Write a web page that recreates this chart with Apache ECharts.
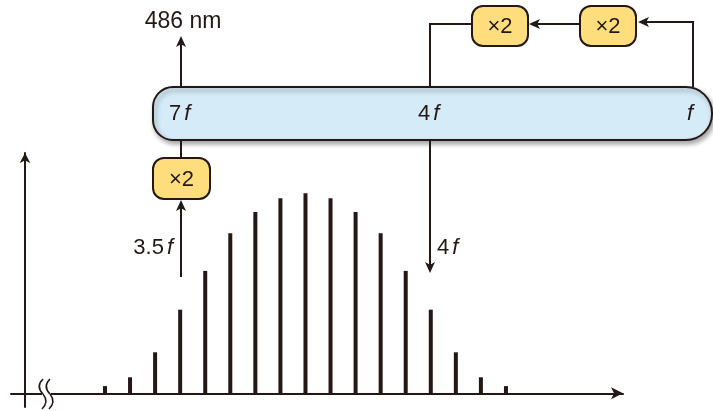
<!DOCTYPE html>
<html><head><meta charset="utf-8">
<script src="https://cdn.jsdelivr.net/npm/echarts@6/dist/echarts.min.js"></script>
<style>html,body{margin:0;padding:0;background:#fff}#c{width:713px;height:411px}</style>
</head><body><div id="c"></div>
<script>
// Comb-mode index (17 teeth) and relative amplitude of each tooth
const modes = [1,2,3,4,5,6,7,8,9,10,11,12,13,14,15,16,17];
const amplitudes = [3.6, 8, 20.5, 41.8, 61.2, 80, 90.7, 97.5, 100, 97.5, 90.7, 80, 61.2, 41.8, 20.5, 8, 3.6];
// Diagram labels
const outLabel = '486 nm';
const pillLabels = [['7', 'f'], ['4', 'f'], ['', 'f']];
const doubler = '×2';
const inLabel = ['3.5', 'f'];
const downLabel = ['4', 'f'];

const INK = '#231815';
const FONT = '"Liberation Sans", Arial, sans-serif';
const chart = echarts.init(document.getElementById('c'), null, {renderer: 'canvas'});

function arrowHead(x, y, dir, len, w) {
  let pts;
  const n = len * 0.25;
  if (dir === 'up') pts = [[x, y], [x + w/2, y + len], [x, y + len - n], [x - w/2, y + len]];
  if (dir === 'down') pts = [[x, y], [x + w/2, y - len], [x, y - len + n], [x - w/2, y - len]];
  if (dir === 'left') pts = [[x, y], [x + len, y - w/2], [x + len - n, y], [x + len, y + w/2]];
  if (dir === 'right') pts = [[x, y], [x - len, y - w/2], [x - len + n, y], [x - len, y + w/2]];
  return {type: 'polygon', shape: {points: pts}, style: {fill: INK}, z: 20};
}
function line(pts) {
  return {type: 'polyline', shape: {points: pts}, style: {stroke: INK, lineWidth: 2, fill: null}, z: 15};
}
function box(x, y, w, h) {
  return [{type: 'rect', shape: {x: x, y: y, width: w, height: h, r: 11},
           style: {fill: '#fedd7c', stroke: INK, lineWidth: 2}, z: 18},
          {type: 'text', x: x + w/2, y: y + h/2 + 1, style: {text: doubler, font: '22px ' + FONT, fill: INK,
           textAlign: 'center', textVerticalAlign: 'middle'}, z: 19}];
}
function fLabel(parts, x, y, align) {
  return {type: 'text', x: x, y: y, z: 21, style: {
    text: (parts[0] ? '{n|' + parts[0] + '}' : '') + '{i|' + parts[1] + '}',
    textAlign: align || 'left', textVerticalAlign: 'middle',
    rich: {
      n: {fontSize: 22, fontFamily: FONT, fill: INK, color: INK},
      i: {fontSize: 22, fontFamily: FONT, fontStyle: 'italic', fill: INK, color: INK, padding: [0, 0, 0, 3]}
    }}};
}
function wiggle(dx) {
  const s = {stroke: INK, lineWidth: 1.5, fill: null};
  return [
    {type: 'bezierCurve', shape: {x1: 43 + dx, y1: 379, cpx1: 37 + dx, cpy1: 385, cpx2: 39 + dx, cpy2: 390, x2: 43 + dx, y2: 394}, style: s, z: 31},
    {type: 'bezierCurve', shape: {x1: 43 + dx, y1: 394, cpx1: 47 + dx, cpy1: 399, cpx2: 47 + dx, cpy2: 404, x2: 42 + dx, y2: 409}, style: s, z: 31}
  ];
}

const graphics = [];
graphics.push({type: 'rect', shape: {x: 153, y: 87, width: 559, height: 53, r: [20, 26, 26, 20]},
  style: {fill: '#d5ebf8', stroke: INK, lineWidth: 2, shadowBlur: 5, shadowOffsetX: 2, shadowOffsetY: 3,
  shadowColor: 'rgba(0,0,0,0.35)'}, z: 10});
graphics.push(fLabel(pillLabels[0], 169, 114));
graphics.push(fLabel(pillLabels[1], 418, 114));
graphics.push(fLabel(pillLabels[2], 684, 114));
graphics.push(line([[181, 87], [181, 44]]));
graphics.push(arrowHead(181, 36, 'up', 11, 10));
graphics.push({type: 'text', x: 183, y: 22, style: {text: outLabel, font: '23px ' + FONT, fill: INK,
  textAlign: 'center', textVerticalAlign: 'middle'}, z: 21});
graphics.push(line([[181, 140], [181, 158]]));
graphics.push(...box(153, 158, 57, 41));
graphics.push(line([[181, 277], [181, 206]]));
graphics.push(arrowHead(181, 200, 'up', 11, 10));
graphics.push(fLabel(inLabel, 173, 248, 'right'));
graphics.push(line([[430, 140], [430, 266]]));
graphics.push(arrowHead(430, 273, 'down', 11, 10));
graphics.push(fLabel(downLabel, 437, 248));
graphics.push(line([[430, 87], [430, 24], [472, 24]]));
graphics.push(...box(472, 6, 56, 40));
graphics.push(line([[580, 24], [536, 24]]));
graphics.push(arrowHead(529, 24, 'left', 11, 10));
graphics.push(...box(580, 6, 56, 40));
graphics.push(line([[693, 87], [693, 22], [645, 22]]));
graphics.push(arrowHead(638, 22, 'left', 11, 10));
graphics.push({type: 'rect', shape: {x: 42, y: 388, width: 9, height: 11}, style: {fill: '#fff'}, z: 30});
graphics.push(...wiggle(0));
graphics.push(...wiggle(7));

chart.setOption({
  animation: false,
  grid: {left: 11, right: 90, top: 153, bottom: 4},
  xAxis: {type: 'value', min: -2.75, max: 21.67,
    axisLine: {show: true, onZero: true, symbol: ['none', 'arrow'], symbolSize: [9, 12],
      lineStyle: {color: INK, width: 2}},
    axisTick: {show: false}, axisLabel: {show: false}, splitLine: {show: false}},
  yAxis: {type: 'value', min: -6.85, max: 120.15, offset: -14,
    axisLine: {show: true, onZero: false, symbol: ['none', 'arrow'], symbolSize: [8, 10],
      lineStyle: {color: INK, width: 2}},
    axisTick: {show: false}, axisLabel: {show: false}, splitLine: {show: false}},
  series: [{type: 'bar', barWidth: 4, itemStyle: {color: INK},
    data: modes.map((m, i) => [m, amplitudes[i]])}],
  graphic: graphics
});
</script></body></html>
